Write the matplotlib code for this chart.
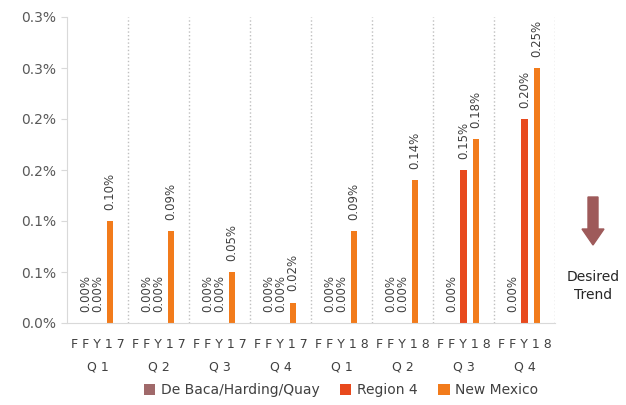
import matplotlib.pyplot as plt
import matplotlib.patches as mpatches
import numpy as np

# quarters and values (percent)
quarters = ["F F Y 1 7\nQ 1", "F F Y 1 7\nQ 2", "F F Y 1 7\nQ 3", "F F Y 1 7\nQ 4",
            "F F Y 1 8\nQ 1", "F F Y 1 8\nQ 2", "F F Y 1 8\nQ 3", "F F Y 1 8\nQ 4"]
series_names = ["De Baca/Harding/Quay", "Region 4", "New Mexico"]
debaca = [0.00, 0.00, 0.00, 0.00, 0.00, 0.00, 0.00, 0.00]
region4 = [0.00, 0.00, 0.00, 0.00, 0.00, 0.00, 0.15, 0.20]
new_mexico = [0.10, 0.09, 0.05, 0.02, 0.09, 0.14, 0.18, 0.25]
yticks = [0.0, 0.05, 0.10, 0.15, 0.20, 0.25, 0.30]
ytick_labels = ["0.0%", "0.1%", "0.1%", "0.2%", "0.2%", "0.3%", "0.3%"]

colors = ["#A0696A", "#E8491D", "#F27B1B"]
text_color = "#404040"

fig = plt.figure(figsize=(6.26, 4.05), dpi=100)
ax = fig.add_axes([67 / 626, 82 / 405, 488 / 626, 306 / 405])

x = np.arange(len(quarters))
offsets = [-0.2, 0.0, 0.2]
all_series = [debaca, region4, new_mexico]

for vals, off, col, name in zip(all_series, offsets, colors, series_names):
    ax.bar(x + off, vals, width=0.1, color=col, label=name)
    for xi, v in zip(x, vals):
        ax.annotate(f"{v:.2f}%", (xi + off, v), xytext=(0, 8), textcoords="offset points",
                    rotation=90, ha="center", va="bottom", fontsize=8.5,
                    color=text_color, annotation_clip=False)

ax.set_xlim(-0.5, len(quarters) - 0.5)
ax.set_ylim(0, 0.30)
ax.set_yticks(yticks)
ax.set_yticklabels(ytick_labels, fontsize=10, color="#595959")
ax.set_xticks(x)
ax.set_xticklabels(quarters, fontsize=9, color=text_color, linespacing=1.9)
ax.tick_params(axis="x", length=0, pad=11)
ax.tick_params(axis="y", length=4, color="#D9D9D9")
ax.set_xticks(np.arange(0.5, len(quarters), 1), minor=True)
ax.tick_params(axis="x", which="minor", length=0)
ax.grid(axis="x", which="minor", color="#BFBFBF", linestyle=":", linewidth=1)

for s in ["top", "right"]:
    ax.spines[s].set_visible(False)
ax.spines["left"].set_color("#D9D9D9")
ax.spines["bottom"].set_color("#D9D9D9")

fig.legend(loc="center", bbox_to_anchor=(0.545, 0.037), ncol=3, frameon=False,
           fontsize=10, handlelength=0.8, handleheight=0.8, handletextpad=0.4,
           columnspacing=1.5, labelcolor=text_color)

# desired trend arrow
fig.patches.append(mpatches.FancyArrow(
    593 / 626, 208 / 405, 0, -48 / 405, width=10 / 626, head_width=22 / 626,
    head_length=16 / 405, length_includes_head=True, color="#9E5A5A",
    transform=fig.transFigure, figure=fig))
fig.text(593 / 626, 119 / 405, "Desired\nTrend", ha="center", va="center",
         fontsize=10, color="#262626", linespacing=1.3)

fig.savefig("out.png", dpi=100)
